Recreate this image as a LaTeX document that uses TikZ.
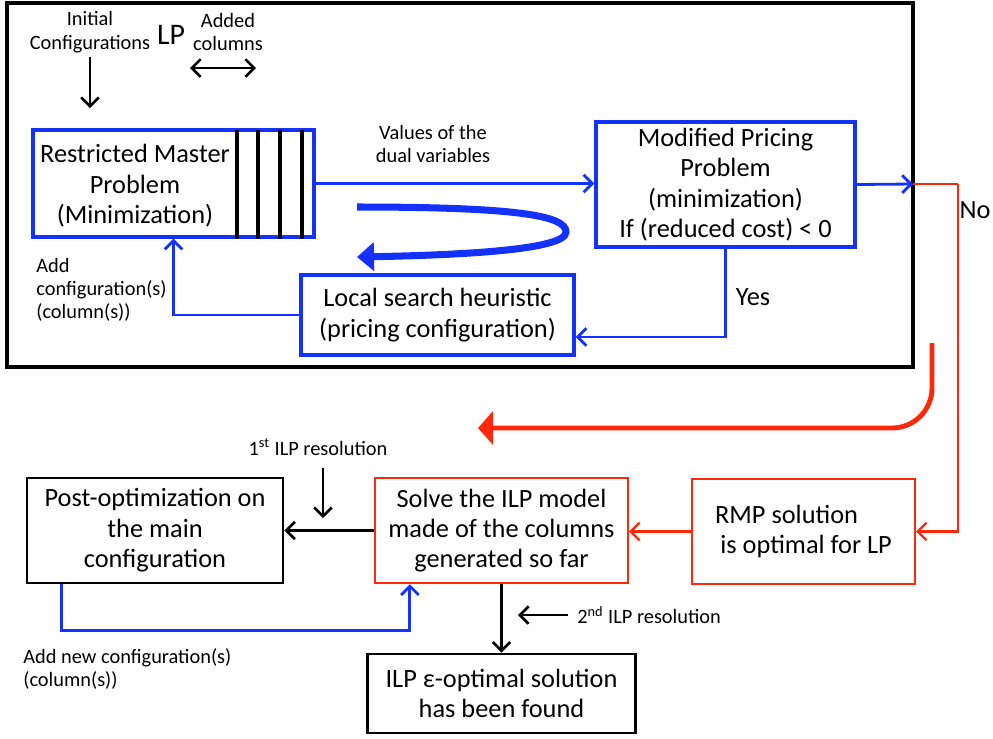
\documentclass[tikz,border=0pt]{standalone}
\usepackage{fontspec}
\setmainfont{Carlito}
\usepackage{xcolor}
\usetikzlibrary{arrows.meta, positioning}
\definecolor{lpblue}{RGB}{20,50,255}
\definecolor{ilpred}{RGB}{255,40,10}

\begin{document}
\begin{tikzpicture}[x=0.02cm, y=-0.02cm,
    >={Straight Barb[length=5pt,width=10pt]},
    boxtext/.style={align=center, inner sep=0pt, font=\fontsize{15}{17.3}\selectfont},
    bluebox/.style={boxtext, draw=lpblue, line width=1.9pt},
    redbox/.style={boxtext, draw=ilpred, line width=1.3pt},
    blackbox/.style={boxtext, draw=black, line width=1.5pt},
    note/.style={align=center, inner sep=0pt, font=\fontsize{11.6}{13.6}\selectfont},
    blueline/.style={draw=lpblue, line width=1.6pt, ->},
    redline/.style={draw=ilpred, line width=1.3pt, ->},
    blackline/.style={draw=black, line width=1.5pt, ->},
    bigblue/.style={draw=lpblue, line width=4pt, -{Triangle[length=0.34cm,width=0.56cm]}},
    bigred/.style={draw=ilpred, line width=2.8pt, -{Triangle[length=0.3cm,width=0.66cm]}}]

\useasboundingbox (0,0) rectangle (993,738);

% LP frame
\draw[line width=2.2pt] (7,3) rectangle (913,367);

\node[note] (initcfg) at (90,32) {Initial\\Configurations};
\node[inner sep=0pt, font=\fontsize{17}{20}\selectfont] (lp) at (171,35) {LP};
\node[note] (added) at (228,32) {Added\\columns};
\coordinate (initend) at (90,108);
\coordinate (colL) at (190,68);
\coordinate (colR) at (256,68);
\draw[blackline, shorten <=2pt] (initcfg.south) -- (initend);
\draw[blackline, <->] (colL) -- (colR);

% boxes
\node[bluebox, minimum width=5.62cm, minimum height=2.14cm] (rmp) at (173.5,183.5) {};
\node[boxtext] (rmptxt) at (135,186) {Restricted Master\\Problem\\(Minimization)};
\foreach \x in {237,258,280,302}
    \draw[line width=2pt] (\x,130) -- (\x,239);

\node[bluebox, minimum width=5.18cm, minimum height=2.5cm] (mpp) at (725.5,184.5)
    {Modified Pricing\\Problem\\(minimization)\\If (reduced cost) < 0};
\node[bluebox, minimum width=5.46cm, minimum height=1.6cm] (ls) at (437.5,315)
    {Local search heuristic\\(pricing configuration)};

\node[blackbox, minimum width=5.12cm, minimum height=2.1cm] (post) at (155,530.5)
    {Post-optimization on\\the main\\configuration};
\node[redbox, minimum width=5.06cm, minimum height=2.1cm] (ilp) at (501.5,530.5)
    {Solve the ILP model\\made of the columns\\generated so far};
\node[redbox, align=left, minimum width=4.46cm, minimum height=2.1cm] (rmps) at (803.5,531.5)
    {RMP solution\\\hspace{3pt}is optimal for LP};
\node[blackbox, minimum width=5.36cm, minimum height=1.58cm] (fin) at (501.5,693.5)
    {ILP ε-optimal solution\\has been found};

% labels
\node[note] (duals) at (433,144) {Values of the\\dual variables};
\node[note, align=left, anchor=west, font=\fontsize{11.6}{13}\selectfont] (addcfg) at (36,290)
    {Add\\configuration(s)\\(column(s))};
\node[boxtext] (yes) at (753,297) {Yes};
\node[boxtext] (no) at (975,210) {No};
\node[note] (firstilp) at (318,447) {1\textsuperscript{st} ILP resolution};
\node[note, anchor=west] (secondilp) at (577,615) {2\textsuperscript{nd} ILP resolution};
\node[note, align=left, anchor=west, font=\fontsize{11.6}{13}\selectfont] (addnew) at (23,669)
    {Add new configuration(s)\\(column(s))};

% connectors
\coordinate (lpexit) at (913,184);
\coordinate (nobend) at (958,184);
\draw[blueline] (rmp.east) -- (rmp.east -| mpp.west);
\draw[blueline] (mpp.east) -- (lpexit);
\draw[redline, -] (lpexit) -- (nobend);
\draw[redline] (nobend) |- (rmps.east);
\draw[blueline] (mpp.south) |- ([yshift=-0.44cm]ls.east);
\draw[blueline] (ls.west) -| (rmp.south);
\draw[redline] (rmps.west) -- (rmps.west -| ilp.east);
\draw[blackline] (ilp.west) -- (post.east);
\draw[blackline] (ilp.south) -- (fin.north);
\draw[blueline] ([xshift=0.72cm]post.south west) -- ++(0,46) -| ([xshift=0.72cm]ilp.south west);

\coordinate (firstend) at (323,518);
\coordinate (secondend) at (518,615);
\draw[blackline, shorten <=7pt] (firstilp.south -| firstend) -- (firstend);
\draw[blackline, shorten <=5pt] (secondilp.west) -- (secondend);

% big loop arrows
\draw[bigblue] (357,207) .. controls (520,207) and (566,216) .. (566,232)
    .. controls (566,250) and (460,255) .. (357,257);
\draw[bigred, rounded corners=0.8cm] (932,343) -- (932,428) -- (478,428);

\end{tikzpicture}
\end{document}
